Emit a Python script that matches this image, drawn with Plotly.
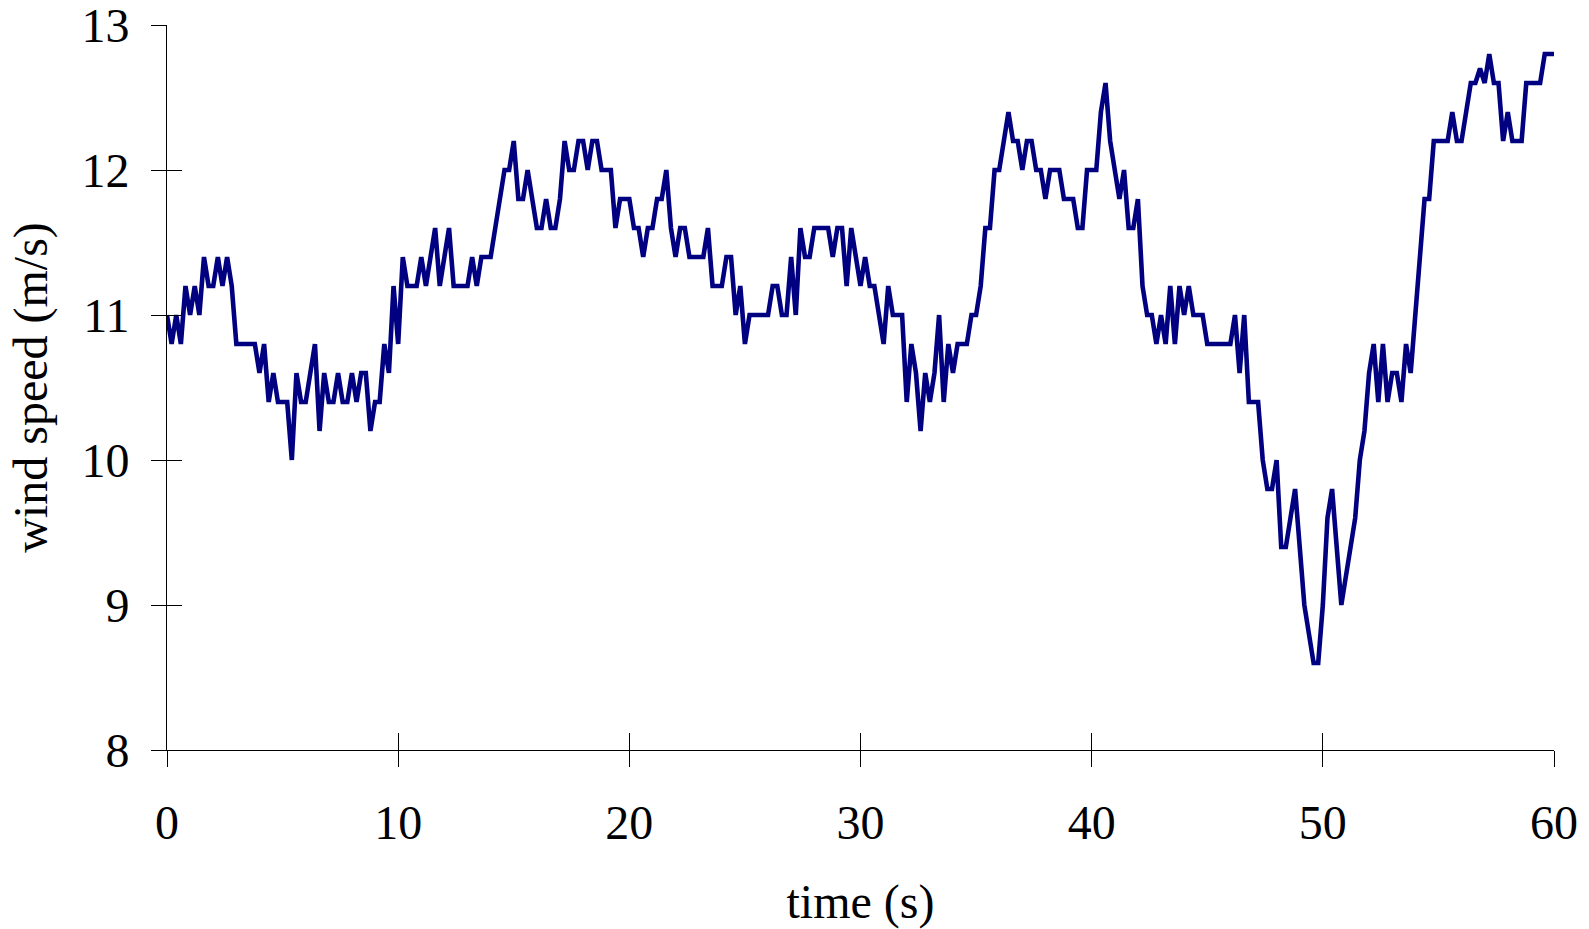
import plotly.graph_objects as go

# Wind speed record, one sample every 0.2 s from 0 to 60 s (m/s)
sample_period = 0.2
wind_speed = [
    11.0, 10.8, 11.0, 10.8, 11.2, 11.0, 11.2, 11.0, 11.4, 11.2,
    11.2, 11.4, 11.2, 11.4, 11.2, 10.8, 10.8, 10.8, 10.8, 10.8,
    10.6, 10.8, 10.4, 10.6, 10.4, 10.4, 10.4, 10.0, 10.6, 10.4,
    10.4, 10.6, 10.8, 10.2, 10.6, 10.4, 10.4, 10.6, 10.4, 10.4,
    10.6, 10.4, 10.6, 10.6, 10.2, 10.4, 10.4, 10.8, 10.6, 11.2,
    10.8, 11.4, 11.2, 11.2, 11.2, 11.4, 11.2, 11.4, 11.6, 11.2,
    11.4, 11.6, 11.2, 11.2, 11.2, 11.2, 11.4, 11.2, 11.4, 11.4,
    11.4, 11.6, 11.8, 12.0, 12.0, 12.2, 11.8, 11.8, 12.0, 11.8,
    11.6, 11.6, 11.8, 11.6, 11.6, 11.8, 12.2, 12.0, 12.0, 12.2,
    12.2, 12.0, 12.2, 12.2, 12.0, 12.0, 12.0, 11.6, 11.8, 11.8,
    11.8, 11.6, 11.6, 11.4, 11.6, 11.6, 11.8, 11.8, 12.0, 11.6,
    11.4, 11.6, 11.6, 11.4, 11.4, 11.4, 11.4, 11.6, 11.2, 11.2,
    11.2, 11.4, 11.4, 11.0, 11.2, 10.8, 11.0, 11.0, 11.0, 11.0,
    11.0, 11.2, 11.2, 11.0, 11.0, 11.4, 11.0, 11.6, 11.4, 11.4,
    11.6, 11.6, 11.6, 11.6, 11.4, 11.6, 11.6, 11.2, 11.6, 11.4,
    11.2, 11.4, 11.2, 11.2, 11.0, 10.8, 11.2, 11.0, 11.0, 11.0,
    10.4, 10.8, 10.6, 10.2, 10.6, 10.4, 10.6, 11.0, 10.4, 10.8,
    10.6, 10.8, 10.8, 10.8, 11.0, 11.0, 11.2, 11.6, 11.6, 12.0,
    12.0, 12.2, 12.4, 12.2, 12.2, 12.0, 12.2, 12.2, 12.0, 12.0,
    11.8, 12.0, 12.0, 12.0, 11.8, 11.8, 11.8, 11.6, 11.6, 12.0,
    12.0, 12.0, 12.4, 12.6, 12.2, 12.0, 11.8, 12.0, 11.6, 11.6,
    11.8, 11.2, 11.0, 11.0, 10.8, 11.0, 10.8, 11.2, 10.8, 11.2,
    11.0, 11.2, 11.0, 11.0, 11.0, 10.8, 10.8, 10.8, 10.8, 10.8,
    10.8, 11.0, 10.6, 11.0, 10.4, 10.4, 10.4, 10.0, 9.8, 9.8,
    10.0, 9.4, 9.4, 9.6, 9.8, 9.4, 9.0, 8.8, 8.6, 8.6,
    9.0, 9.6, 9.8, 9.4, 9.0, 9.2, 9.4, 9.6, 10.0, 10.2,
    10.6, 10.8, 10.4, 10.8, 10.4, 10.6, 10.6, 10.4, 10.8, 10.6,
    11.0, 11.4, 11.8, 11.8, 12.2, 12.2, 12.2, 12.2, 12.4, 12.2,
    12.2, 12.4, 12.6, 12.6, 12.7, 12.6, 12.8, 12.6, 12.6, 12.2,
    12.4, 12.2, 12.2, 12.2, 12.6, 12.6, 12.6, 12.6, 12.8, 12.8,
    12.8,
]
time_s = [round(i * sample_period, 1) for i in range(len(wind_speed))]

x_ticks = [0, 10, 20, 30, 40, 50, 60]
y_ticks = [8, 9, 10, 11, 12, 13]
x_range = [0, 60]
y_range = [8, 13]

FONT = "Liberation Serif, Times New Roman, serif"

fig = go.Figure()
fig.add_trace(go.Scatter(
    x=time_s, y=wind_speed, mode="lines",
    line=dict(color="#000080", width=4.6),
    showlegend=False, hoverinfo="skip",
))
# invisible trace for the overlay axes that draw the inner half of the ticks
fig.add_trace(go.Scatter(
    x=[], y=[], xaxis="x2", yaxis="y2", mode="lines",
    showlegend=False, hoverinfo="skip",
))

fig.update_layout(
    width=1589, height=929,
    margin=dict(l=167, r=35, t=25, b=179),
    paper_bgcolor="white", plot_bgcolor="white",
    font=dict(family=FONT, size=48, color="black"),
    xaxis=dict(
        range=x_range, tickvals=x_ticks, ticks="outside", ticklen=16,
        tickwidth=1, tickcolor="black", showline=True, linecolor="black",
        linewidth=1, showgrid=False, zeroline=False, automargin=False,
        tickfont=dict(family=FONT, size=48, color="black"),
        ticklabelstandoff=14, ticklabeloverflow="allow",
        title=dict(text="time (s)", font=dict(family=FONT, size=48), standoff=40),
    ),
    yaxis=dict(
        range=y_range, tickvals=y_ticks, ticks="outside", ticklen=15,
        tickwidth=1, tickcolor="black", showline=True, linecolor="black",
        linewidth=1, showgrid=False, zeroline=False, automargin=False,
        tickfont=dict(family=FONT, size=48, color="black"),
        ticklabelstandoff=12, ticklabeloverflow="allow",
        title=dict(text="wind speed (m/s)", font=dict(family=FONT, size=48), standoff=18),
    ),
    xaxis2=dict(
        range=x_range, tickvals=x_ticks, ticks="inside", ticklen=17,
        tickwidth=1, tickcolor="black", showticklabels=False,
        showline=False, showgrid=False, zeroline=False, automargin=False,
        overlaying="x", anchor="y2",
    ),
    yaxis2=dict(
        range=y_range, tickvals=y_ticks, ticks="inside", ticklen=15,
        tickwidth=1, tickcolor="black", showticklabels=False,
        showline=False, showgrid=False, zeroline=False, automargin=False,
        overlaying="y", anchor="x2", side="left",
    ),
)

fig.write_html("out.html")
